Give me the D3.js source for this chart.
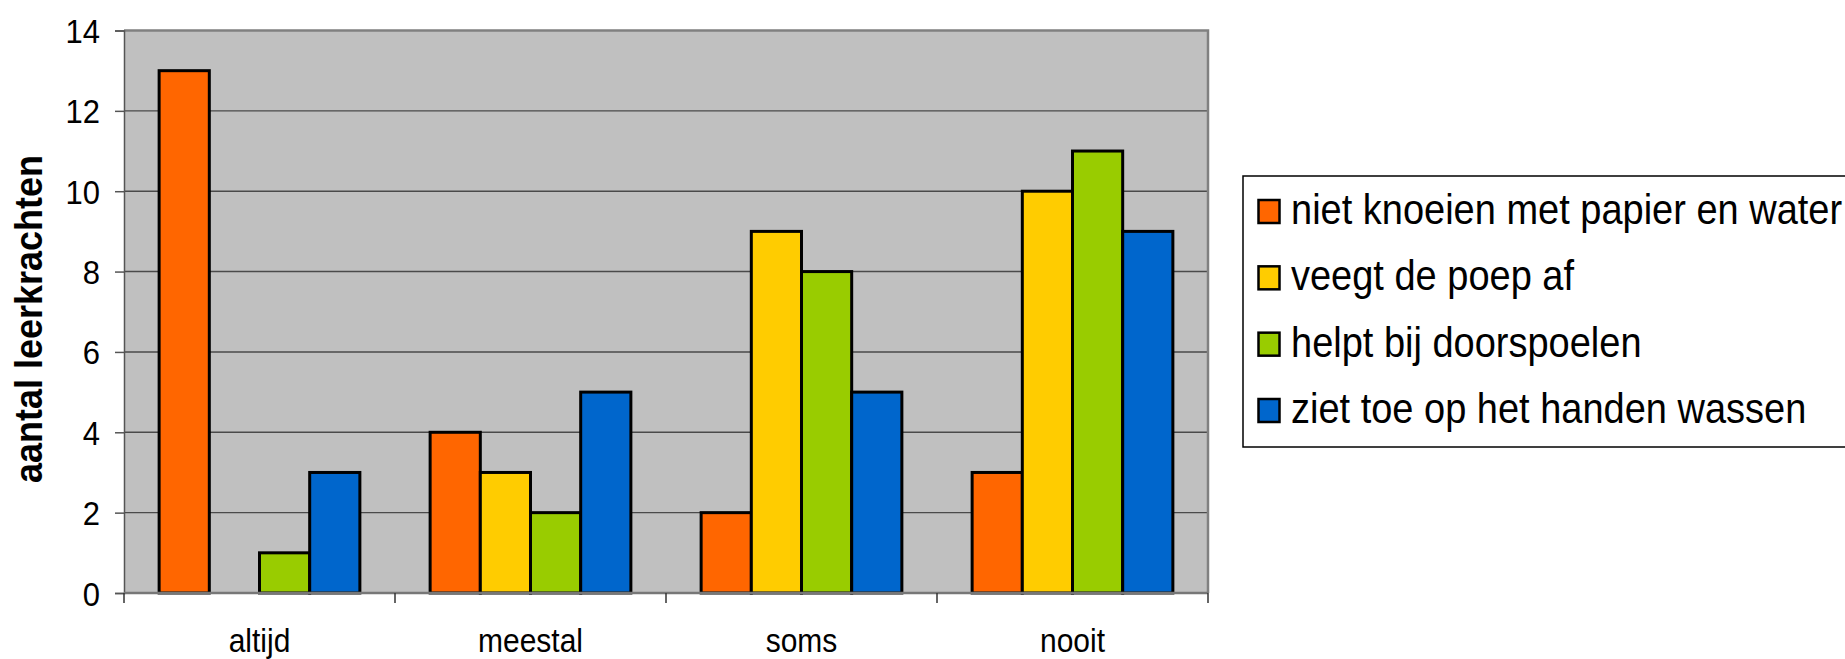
<!DOCTYPE html>
<html>
<head>
<meta charset="utf-8">
<script src="https://cdn.jsdelivr.net/npm/d3@7"></script>
<style>
  html, body { margin: 0; padding: 0; background: #fff; }
  svg { display: block; font-family: "Liberation Sans", Arial, sans-serif; }
</style>
</head>
<body>
<svg id="chart" width="1845" height="659"></svg>
<script>
const categories = ["altijd", "meestal", "soms", "nooit"];
const seriesNames = [
  "niet knoeien met papier en water",
  "veegt de poep af",
  "helpt bij doorspoelen",
  "ziet toe op het handen wassen"
];
const seriesColors = ["#FF6600", "#FFCC00", "#99CC00", "#0066CC"];
const nietKnoeien = [13, 4, 2, 3];
const veegtPoep = [0, 3, 9, 10];
const helptDoorspoelen = [1, 2, 8, 11];
const zietHandenWassen = [3, 5, 5, 9];
const yTicks = [0, 2, 4, 6, 8, 10, 12, 14];
const yTitle = "aantal leerkrachten";

const seriesValues = [nietKnoeien, veegtPoep, helptDoorspoelen, zietHandenWassen];

const svg = d3.select("#chart");
const plot = { left: 124, top: 30.5, right: 1208, bottom: 593 };

const x0 = d3.scaleBand().domain(categories).range([plot.left, plot.right]).padding(0);
const x1 = d3.scaleBand().domain(d3.range(seriesNames.length)).range([0, x0.bandwidth()])
  .paddingInner(0).paddingOuter(0.7);
const y = d3.scaleLinear().domain([0, 14]).range([plot.bottom, plot.top]);

// plot background
svg.append("rect")
  .attr("x", plot.left).attr("y", plot.top)
  .attr("width", plot.right - plot.left).attr("height", plot.bottom - plot.top)
  .attr("fill", "#C0C0C0");

// gridlines
svg.append("g").selectAll("line").data(yTicks.filter(d => d > 0 && d < 14)).join("line")
  .attr("x1", plot.left).attr("x2", plot.right)
  .attr("y1", d => y(d)).attr("y2", d => y(d))
  .attr("stroke", "#4a4a4a").attr("stroke-width", 1.4);

// plot border top/right
svg.append("path")
  .attr("d", `M${plot.left},${plot.top} H${plot.right} V${plot.bottom}`)
  .attr("fill", "none").attr("stroke", "#808080").attr("stroke-width", 2.5);

// bars
const groups = svg.append("g").selectAll("g").data(categories).join("g")
  .attr("transform", d => `translate(${x0(d)},0)`);
groups.selectAll("rect")
  .data((c, ci) => seriesValues.map((vals, si) => ({ si, v: vals[ci] })).filter(d => d.v > 0))
  .join("rect")
  .attr("x", d => x1(d.si))
  .attr("width", x1.bandwidth())
  .attr("y", d => y(d.v))
  .attr("height", d => y(0) - y(d.v))
  .attr("fill", d => seriesColors[d.si])
  .attr("stroke", "#000").attr("stroke-width", 3)
  .attr("stroke-linejoin", "miter");

// y axis
const yAxis = d3.axisLeft(y).tickValues(yTicks).tickSize(9).tickPadding(15).tickFormat(d3.format("d"));
const yg = svg.append("g").attr("transform", `translate(${plot.left},0)`).call(yAxis);
yg.select(".domain").attr("stroke", "#555").attr("stroke-width", 1.5);
yg.selectAll(".tick line").attr("stroke", "#555").attr("stroke-width", 1.5);
yg.selectAll(".tick text")
  .attr("x", null).attr("dy", null).attr("y", null)
  .attr("transform", "translate(-24,12) scale(1,1.1)")
  .attr("font-size", 31).attr("fill", "#000")
  .attr("font-family", "'Liberation Sans', Arial, sans-serif");

// x axis (ticks at category boundaries)
const xg = svg.append("g");
xg.append("line")
  .attr("x1", plot.left).attr("x2", plot.right)
  .attr("y1", plot.bottom).attr("y2", plot.bottom)
  .attr("stroke", "#777").attr("stroke-width", 2.5);
const bounds = categories.map(c => x0(c)).concat([x0(categories[categories.length - 1]) + x0.bandwidth()]);
xg.selectAll("line.tk").data(bounds).join("line").attr("class", "tk")
  .attr("x1", d => d).attr("x2", d => d)
  .attr("y1", plot.bottom).attr("y2", plot.bottom + 10)
  .attr("stroke", "#333").attr("stroke-width", 1.5);
xg.selectAll("text").data(categories).join("text")
  .attr("transform", d => `translate(${x0(d) + x0.bandwidth() / 2},652) scale(1,1.12)`)
  .attr("text-anchor", "middle")
  .attr("font-size", 30).attr("fill", "#000")
  .text(d => d);

// y title
svg.append("text")
  .attr("transform", "translate(42,319) rotate(-90) scale(1,1.06)")
  .attr("text-anchor", "middle")
  .attr("font-size", 36).attr("font-weight", "bold").attr("fill", "#000")
  .text(yTitle);

// legend
const lg = svg.append("g");
lg.append("rect")
  .attr("x", 1243).attr("y", 176)
  .attr("width", 700).attr("height", 271)
  .attr("fill", "#fff").attr("stroke", "#000").attr("stroke-width", 1.5);
const rowBase = d3.scalePoint().domain(d3.range(seriesNames.length)).range([224, 423]);
const items = lg.selectAll("g.item").data(seriesNames).join("g").attr("class", "item");
items.append("rect")
  .attr("x", 1258.5).attr("y", (d, i) => rowBase(i) - 24)
  .attr("width", 21).attr("height", 23)
  .attr("fill", (d, i) => seriesColors[i])
  .attr("stroke", "#000").attr("stroke-width", 2.5);
items.append("text")
  .attr("transform", (d, i) => `translate(1291,${rowBase(i)}) scale(1,1.12)`)
  .attr("font-size", 38).attr("fill", "#000")
  .text(d => d);
</script>
</body>
</html>
